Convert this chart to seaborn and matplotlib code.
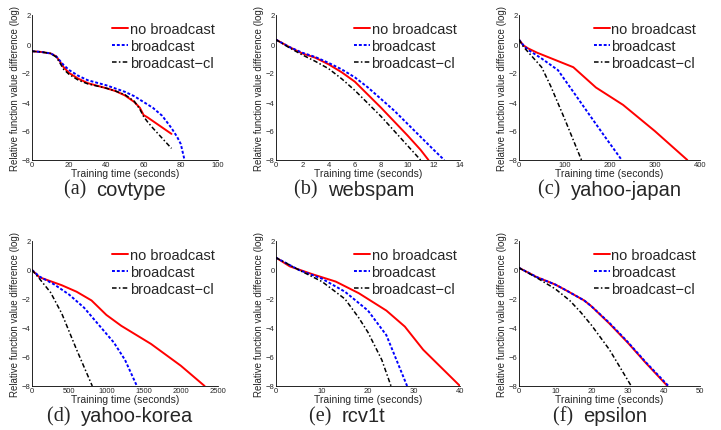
import matplotlib
matplotlib.use('Agg')
import matplotlib.pyplot as plt
import seaborn as sns
import pandas as pd

# covtype
cov_t_nb = [0, 5, 10, 13, 15, 17, 20, 25, 30, 40, 45, 50, 55, 58, 60, 62, 75]
cov_v_nb = [-0.5, -0.55, -0.65, -0.85, -1.2, -1.6, -2.0, -2.4, -2.7, -3.05, -3.25, -3.55, -4.0, -4.4, -4.9, -5.05, -6.2]
cov_t_b = [0, 5, 10, 13, 15, 17, 20, 25, 30, 40, 50, 55, 60, 65, 70, 75, 78, 80, 82]
cov_v_b = [-0.5, -0.55, -0.65, -0.85, -1.15, -1.45, -1.8, -2.2, -2.5, -2.85, -3.3, -3.6, -4.0, -4.4, -4.95, -5.8, -6.4, -6.9, -8.0]
cov_t_cl = [0, 5, 10, 13, 15, 17, 20, 25, 30, 40, 45, 50, 55, 58, 60, 62, 65, 70, 75]
cov_v_cl = [-0.5, -0.55, -0.65, -0.9, -1.3, -1.75, -2.1, -2.5, -2.75, -3.05, -3.25, -3.5, -3.95, -4.5, -5.0, -5.35, -5.8, -6.5, -7.2]

# webspam
web_t_nb = [0, 1, 2, 3, 4, 5, 6, 7, 8, 9, 10, 11, 11.6]
web_v_nb = [0.3, -0.2, -0.65, -0.95, -1.4, -1.95, -2.6, -3.5, -4.4, -5.35, -6.3, -7.3, -8.0]
web_t_b = [0, 1, 2, 3, 4, 5, 6, 7, 8, 9, 10, 11, 12, 12.8]
web_v_b = [0.3, -0.2, -0.6, -0.9, -1.3, -1.75, -2.3, -3.0, -3.8, -4.6, -5.5, -6.4, -7.3, -8.0]
web_t_cl = [0, 1, 2, 3, 4, 5, 6, 7, 8, 9, 10, 11]
web_v_cl = [0.3, -0.25, -0.75, -1.2, -1.7, -2.4, -3.2, -4.1, -5.0, -6.0, -7.0, -8.0]

# yahoo-japan
yj_t_nb = [0, 10, 20, 40, 80, 120, 170, 230, 300, 372]
yj_v_nb = [0.3, -0.1, -0.3, -0.6, -1.1, -1.6, -3.0, -4.2, -6.0, -8.0]
yj_t_b = [0, 10, 20, 50, 86, 120, 156, 190, 227]
yj_v_b = [0.3, -0.1, -0.4, -1.0, -1.8, -3.3, -4.9, -6.4, -8.0]
yj_t_cl = [0, 10, 30, 50, 70, 100, 138]
yj_v_cl = [0.3, -0.2, -0.9, -1.6, -2.9, -5.1, -8.0]

# yahoo-korea
yk_t_nb = [0, 100, 400, 600, 800, 1000, 1200, 1600, 2000, 2320]
yk_v_nb = [0.0, -0.5, -1.05, -1.5, -2.1, -3.1, -3.85, -5.1, -6.6, -8.0]
yk_t_b = [0, 100, 300, 500, 700, 900, 1100, 1250, 1410]
yk_v_b = [0.0, -0.45, -1.0, -1.7, -2.6, -3.8, -5.0, -6.2, -8.0]
yk_t_cl = [0, 100, 250, 400, 600, 810]
yk_v_cl = [0.0, -0.6, -1.55, -3.0, -5.5, -8.0]

# rcv1t
rc_t_nb = [0, 3, 8, 13, 18, 24, 28, 32, 40]
rc_v_nb = [0.85, 0.25, -0.3, -0.8, -1.6, -2.8, -3.9, -5.5, -8.0]
rc_t_b = [0, 5, 10, 15, 20, 24, 28.5]
rc_v_b = [0.85, 0.0, -0.6, -1.5, -2.8, -4.5, -8.0]
rc_t_cl = [0, 5, 10, 15, 18, 20, 23, 25]
rc_v_cl = [0.85, 0.0, -0.8, -2.0, -3.3, -4.3, -6.2, -8.0]

# epsilon
ep_t_nb = [0, 5, 10, 13, 18, 20, 25, 30, 35, 41]
ep_v_nb = [0.15, -0.5, -1.0, -1.4, -2.1, -2.5, -3.7, -5.0, -6.4, -8.0]
ep_t_b = [0, 5, 10, 13, 18, 20, 25, 30, 35, 41.3]
ep_v_b = [0.15, -0.5, -1.0, -1.4, -2.1, -2.5, -3.65, -4.95, -6.35, -8.0]
ep_t_cl = [0, 5, 10, 14, 17, 20, 25, 31]
ep_v_cl = [0.15, -0.55, -1.3, -2.1, -2.9, -3.8, -5.5, -8.0]

names = ['covtype', 'webspam', 'yahoo-japan', 'yahoo-korea', 'rcv1t', 'epsilon']
letters = ['a', 'b', 'c', 'd', 'e', 'f']
xmax = [100, 14, 400, 2500, 40, 50]
xticks = [[0, 20, 40, 60, 80, 100], [0, 2, 4, 6, 8, 10, 12, 14],
          [0, 100, 200, 300, 400], [0, 500, 1000, 1500, 2000, 2500],
          [0, 10, 20, 30, 40], [0, 10, 20, 30, 40, 50]]
series = [
    [(cov_t_nb, cov_v_nb), (cov_t_b, cov_v_b), (cov_t_cl, cov_v_cl)],
    [(web_t_nb, web_v_nb), (web_t_b, web_v_b), (web_t_cl, web_v_cl)],
    [(yj_t_nb, yj_v_nb), (yj_t_b, yj_v_b), (yj_t_cl, yj_v_cl)],
    [(yk_t_nb, yk_v_nb), (yk_t_b, yk_v_b), (yk_t_cl, yk_v_cl)],
    [(rc_t_nb, rc_v_nb), (rc_t_b, rc_v_b), (rc_t_cl, rc_v_cl)],
    [(ep_t_nb, ep_v_nb), (ep_t_b, ep_v_b), (ep_t_cl, ep_v_cl)],
]
labels = ['no broadcast', 'broadcast', 'broadcast\u2212cl']
colors = ['#ff0000', '#0000ff', '#000000']
styles = ['-', (0, (1.5, 1.0)), (0, (3, 1.5, 1, 1.5))]
widths = [1.4, 1.4, 1.1]

sns.set_style('white')
plt.rcParams['font.family'] = ['Liberation Sans', 'DejaVu Sans']

fig = plt.figure(figsize=(7.21, 4.31), dpi=100)
W, H = 721.0, 431.0
cols = [(32, 218), (276, 460), (519, 700)]
rows = [(16, 161), (242, 387)]
cap_x = [115, 354, 610, 120, 347, 600]
cap_y = [190, 417]

renderer = fig.canvas.get_renderer()
for i in range(6):
    r, c = divmod(i, 3)
    x0, x1 = cols[c]
    y0, y1 = rows[r]
    ax = fig.add_axes([x0 / W, 1 - y1 / H, (x1 - x0) / W, (y1 - y0) / H])
    for k, (t, v) in enumerate(series[i]):
        df = pd.DataFrame({'t': t, 'v': v})
        sns.lineplot(data=df, x='t', y='v', ax=ax, color=colors[k], linestyle=styles[k],
                     linewidth=widths[k], label=labels[k], sort=False, estimator=None)
    ax.set_xlim(0, xmax[i])
    ax.set_ylim(-8, 2)
    ax.set_xticks(xticks[i])
    ax.set_yticks([-8, -6, -4, -2, 0, 2])
    ax.tick_params(axis='both', labelsize=5.5, length=2, pad=1, direction='in')
    for s in ['top', 'right']:
        ax.spines[s].set_visible(False)
    for s in ['left', 'bottom']:
        ax.spines[s].set_color('black')
        ax.spines[s].set_linewidth(0.6)
    ax.set_xlabel('Training time (seconds)', fontsize=7.5, labelpad=0)
    ax.set_ylabel('Relative function value difference (log)', fontsize=7, labelpad=1)
    ax.legend(loc='upper right', frameon=False, fontsize=10.5, handlelength=1.1,
              handletextpad=0.1, borderaxespad=0.1, labelspacing=0.2,
              bbox_to_anchor=(1.02, 1.0))
    # caption: serif letter + sans name, centred as a pair
    cy = 1 - cap_y[r] / H
    t1 = fig.text(0, cy, '(%s)  ' % letters[i], ha='left', va='center', fontsize=14.5,
                  family=['Liberation Serif', 'DejaVu Serif'])
    t2 = fig.text(0, cy, names[i], ha='left', va='center', fontsize=14.5)
    w1 = t1.get_window_extent(renderer).width
    w2 = t2.get_window_extent(renderer).width
    left = cap_x[i] - (w1 + w2) / 2
    t1.set_x(left / W)
    t2.set_x((left + w1) / W)

fig.savefig('out.png', dpi=100)
